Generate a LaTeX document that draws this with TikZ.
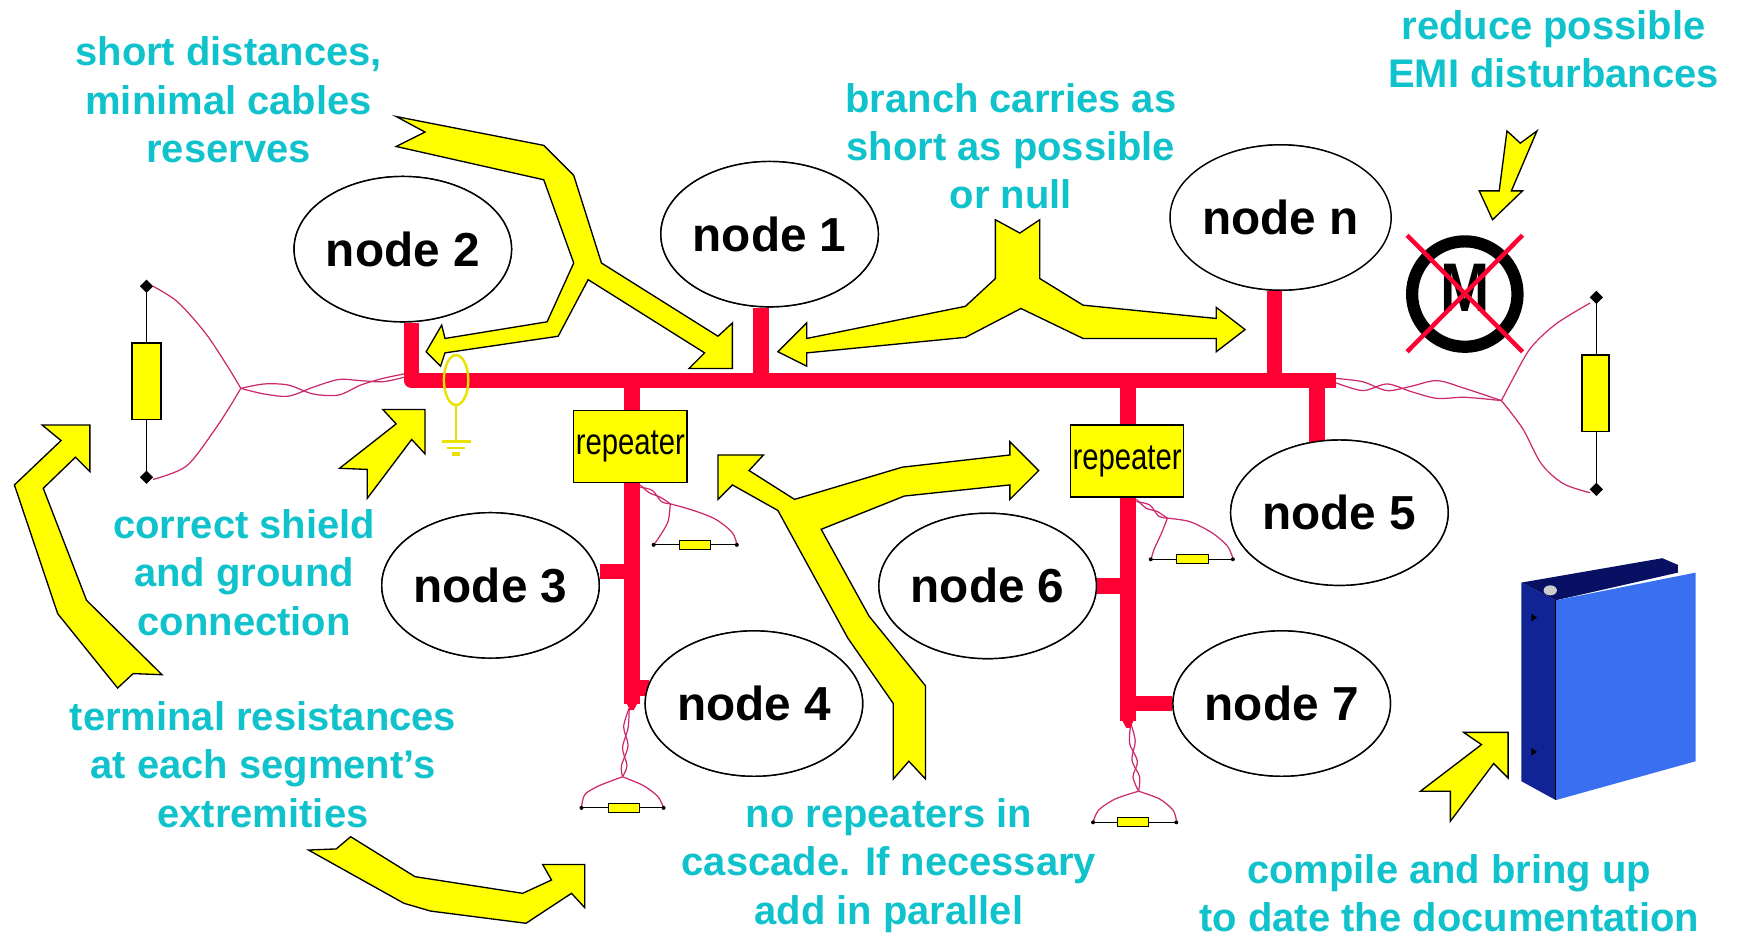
\documentclass[tikz,border=0pt]{standalone}
\usepackage{fontspec}
\setmainfont{Liberation Sans}
\usepackage{graphicx}
\usetikzlibrary{shapes.geometric}

\definecolor{notecyan}{RGB}{16,194,204}
\definecolor{busred}{RGB}{255,0,51}
\definecolor{wirepink}{RGB}{204,40,110}
\definecolor{hiyellow}{RGB}{255,255,0}
\definecolor{shieldyellow}{RGB}{232,226,0}
\definecolor{binderface}{RGB}{58,112,240}
\definecolor{binderspine}{RGB}{16,36,150}
\definecolor{bindertop}{RGB}{8,16,100}

\tikzset{
  station/.style={ellipse, draw=black, fill=white, line width=1.3, minimum width=196,
    minimum height=131, inner sep=0, font=\fontsize{43}{50}\selectfont\bfseries},
  note/.style={text=notecyan, font=\fontsize{36}{43.5}\selectfont\bfseries,
    align=center, inner sep=0, anchor=north},
  bus/.style={busred, line width=14},
  repbox/.style={draw=black, fill=hiyellow, line width=1.3, minimum width=102,
    minimum height=65, inner sep=0, font=\fontsize{33}{36}\selectfont},
  callout/.style={fill=hiyellow, draw=black, line width=1.2, line join=miter},
  twist/.style={wirepink, line width=1.1},
  resline/.style={black, line width=1.3},
  resbody/.style={draw=black, fill=hiyellow, line width=1.2},
}

\begin{document}
\begin{tikzpicture}[x=1pt, y=-1pt]
\fill[white] (0,0) rectangle (1568,847);
\useasboundingbox (0,0) rectangle (1568,847);

% ---------- stations and repeaters (placed first so they can be referenced)
\path
  (363,224.5)  node[station] (n2) {}
  (693.5,211)  node[station] (n1) {}
  (1154,196)   node[station] (nn) {}
  (1207,462)   node[station] (n5) {}
  (442,527.5)  node[station] (n3) {}
  (679.4,634)  node[station] (n4) {}
  (890,528)    node[station] (n6) {}
  (1155,634)   node[station] (n7) {};
\node[repbox] (r1) at (568,402.5) {\scalebox{0.8}[1]{repeater}};
\node[repbox] (r2) at (1015.7,415.5) {\scalebox{0.8}[1]{repeater}};

% ---------- bus coordinates
\coordinate (busW) at (371,343);
\coordinate (busE) at (1204,343);
\coordinate (t1) at (685.6,343);
\coordinate (tn) at (1148.5,343);
\coordinate (t5) at (1187,343);
\coordinate (tr1) at (569.5,343);
\coordinate (tr2) at (1016.5,343);
\coordinate (v1n3) at (569.5,515);
\coordinate (v1n4) at (569.5,620);
\coordinate (v1end) at (569.5,634);
\coordinate (v2n6) at (1016.5,528);
\coordinate (v2n7) at (1016.5,634);
\coordinate (v2end) at (1016.5,650);

% ---------- twisted pairs and terminators
% left end of the main segment
\draw[twist] plot[smooth] coordinates {(138,258) (160,272) (185,300) (205,330) (217,350)};
\draw[twist] plot[smooth] coordinates {(138,432) (168,420) (193,388) (208,365) (217,350)};
\draw[twist] plot[smooth] coordinates {(217,350) (238,346) (260,347) (282,355) (305,356) (325,347) (345,341) (364,337)};
\draw[twist] plot[smooth] coordinates {(217,350) (238,355) (260,357) (282,349) (305,342) (325,343) (345,344) (364,340)};
% right end of the main segment
\draw[twist] plot[smooth] coordinates {(1204,341) (1228,344) (1250,352) (1272,348) (1295,343) (1320,350) (1353,361)};
\draw[twist] plot[smooth] coordinates {(1204,345) (1228,352) (1250,346) (1272,353) (1295,359) (1320,358) (1353,361)};
\draw[twist] plot[smooth] coordinates {(1353,361) (1363,342) (1379,314) (1402,292) (1433,273)};
\draw[twist] plot[smooth] coordinates {(1353,361) (1372,386) (1389,418) (1409,436) (1433,444)};
% first repeater segment
\draw[twist] plot[smooth] coordinates {(577,437) (585,444) (595,448) (604,454)};
\draw[twist] plot[smooth] coordinates {(577,439) (588,442) (596,452) (604,454)};
\draw[twist] plot[smooth] coordinates {(604,454) (602,470) (594,484) (589,491)};
\draw[twist] plot[smooth] coordinates {(604,454) (625,460) (645,468) (660,480) (664,491)};
\draw[twist] plot[smooth] coordinates {(567,638) (562,655) (566,672) (560,690) (561,700)};
\draw[twist] plot[smooth] coordinates {(567,638) (566,656) (561,674) (565,690) (561,700)};
\draw[twist] plot[smooth] coordinates {(561,700) (540,708) (527,716) (524,728)};
\draw[twist] plot[smooth] coordinates {(561,700) (580,708) (593,718) (598,728)};
% second repeater segment
\draw[twist] plot[smooth] coordinates {(1024,450) (1033,458) (1043,461) (1052,467)};
\draw[twist] plot[smooth] coordinates {(1024,452) (1036,455) (1044,465) (1052,467)};
\draw[twist] plot[smooth] coordinates {(1052,467) (1046,482) (1040,495) (1037,505)};
\draw[twist] plot[smooth] coordinates {(1052,467) (1072,470) (1092,480) (1106,492) (1111,503)};
\draw[twist] plot[smooth] coordinates {(1019,652) (1023,668) (1020,685) (1027,700) (1026,713)};
\draw[twist] plot[smooth] coordinates {(1019,652) (1018,670) (1025,686) (1021,700) (1026,713)};
\draw[twist] plot[smooth] coordinates {(1026,713) (1005,720) (990,730) (985,741)};
\draw[twist] plot[smooth] coordinates {(1026,713) (1045,720) (1057,730) (1060,739)};

% big terminating resistors
\draw[resline] (132,258) -- (132,430);
\filldraw[resbody] (119,309) rectangle (145,378);
\fill (132,252) -- (138,258) -- (132,264) -- (126,258) -- cycle;
\fill (132,424) -- (138,430) -- (132,436) -- (126,430) -- cycle;
\draw[resline] (1438.5,268) -- (1438.5,441);
\filldraw[resbody] (1425.5,320) rectangle (1450,389);
\fill (1438.5,262) -- (1444.5,268) -- (1438.5,274) -- (1432.5,268) -- cycle;
\fill (1438.5,435) -- (1444.5,441) -- (1438.5,447) -- (1432.5,441) -- cycle;

% small terminating resistors
\foreach \xa/\xb/\ya/\ra/\rb in {589/664/491/612/640, 524/598/728/548/576,
                                 1037/1111/504/1060/1089, 985/1060/741/1007/1035}{
  \draw[resline, line width=1.1] (\xa,\ya) -- (\xb,\ya);
  \filldraw[resbody, line width=1] (\ra,\ya-4) rectangle (\rb,\ya+4);
  \fill (\xa,\ya) circle (1.8);
  \fill (\xb,\ya) circle (1.8);
}

% ---------- red bus and drops
\draw[bus, line join=round] (busW |- n2.south) -- (busW) -- (busE);
\draw[bus] (t1) -- (t1 |- n1.south);
\draw[bus] (tn) -- (tn |- nn.south);
\draw[bus] (t5) -- ([yshift=-3pt]t5 |- n5.north);
\draw[bus] (tr1) -- (tr1 |- r1.north);
\draw[bus] (tr2) -- (tr2 |- r2.north);
\draw[bus] (tr1 |- r1.south) -- (v1end);
\fill[busred] (562.5,630) -- (576.5,630) -- (571,640) -- (568,640) -- cycle;
\draw[bus] (v1n3) -- (v1n3 -| n3.east);
\draw[bus] (v1n4) -- ([xshift=4pt]v1n4 -| n4.west);
\draw[bus] (tr2 |- r2.south) -- (v2end);
\fill[busred] (1009.5,646) -- (1023.5,646) -- (1018,656) -- (1015,656) -- cycle;
\draw[bus] (v2n6) -- (v2n6 -| n6.east);
\draw[bus] (v2n7) -- (v2n7 -| n7.west);

% stations redrawn on top of the drops, with their labels
\path
  (363,224.5)  node[station] {node 2}
  (693.5,211)  node[station] {node 1}
  (1154,196)   node[station] {node n}
  (1207,462)   node[station] {node 5}
  (442,527.5)  node[station] {node 3}
  (679.4,634)  node[station] {node 4}
  (890,528)    node[station] {node 6}
  (1155,634)   node[station] {node 7};
\node[repbox] at (r1) {\scalebox{0.8}[1]{repeater}};
\node[repbox] at (r2) {\scalebox{0.8}[1]{repeater}};

% ---------- shield clamp and ground
\draw[shieldyellow, line width=2.2] (411,342.5) ellipse (11 and 22.5);
\draw[shieldyellow, line width=2.2] (411,365) -- (411,397);
\draw[shieldyellow, line width=2.6] (398,398) -- (424,398);
\draw[shieldyellow, line width=2.2] (403,403.5) -- (419,403.5);
\fill[shieldyellow] (407.5,407) rectangle (414.5,411);

% ---------- motor (EMI source)
\draw[black, line width=11] (1320,265) circle (47.5);
\node[font=\fontsize{62}{66}\selectfont\bfseries, inner sep=0] (motor) at (1320,259.5) {\scalebox{0.86}[1]{M}};
\draw[busred, line width=4] (1268,212) -- (1372,317);
\draw[busred, line width=4] (1372,212) -- (1268,317);

% ---------- documentation binder
\fill[binderspine] (1371,525) -- (1402,541) -- (1402,721) -- (1371,704) -- cycle;
\fill[bindertop] (1371,525) -- (1498,503) -- (1512,509) -- (1512,516) -- (1402,541) -- cycle;
\fill[binderface] (1402,541) -- (1528,516) -- (1528,686) -- (1402,721) -- cycle;
\draw[black, line width=0.8] (1402,541) -- (1402,721);
\fill[gray!40] (1397,532) ellipse (6 and 4.5);
\fill[black] (1380,553) -- (1385,556.5) -- (1380,560) -- cycle;
\fill[black] (1380,674) -- (1385,677.5) -- (1380,681) -- cycle;

% ---------- yellow callout arrows
\draw[callout] (357,105) -- (490,131) -- (517,158) -- (542,237) -- (647,303) -- (660,291)
  -- (660,332) -- (621,332) -- (635,318) -- (530,252) -- (503,303) -- (401,318) -- (397,330)
  -- (384,317) -- (398,293) -- (401,305) -- (493,290) -- (517,237) -- (490,162) -- (357,132)
  -- (383,119) -- cycle;
\draw[callout] (897,198) -- (919,210) -- (937,198) -- (937,251) -- (976,275) -- (1096,287)
  -- (1096,277) -- (1122,297) -- (1096,317) -- (1096,305) -- (976,305) -- (920,278)
  -- (870,304) -- (727,318) -- (727,330) -- (701,317) -- (727,291) -- (727,305)
  -- (870,276) -- (897,251) -- cycle;
\draw[callout] (805,702) -- (805,634) -- (764,575) -- (701,460) -- (660,437) -- (647,450)
  -- (647,410) -- (688,410) -- (675,424) -- (716,450) -- (813,421) -- (910,410) -- (910,398)
  -- (936,424) -- (910,450) -- (910,437) -- (815,447) -- (740,477) -- (783,555) -- (834,618)
  -- (834,702) -- (819,686) -- cycle;
\draw[callout] (81,383) -- (81,425) -- (68,412) -- (39,440) -- (78,541) -- (146,608)
  -- (120,607) -- (106,620) -- (52,553) -- (13,437) -- (55,397) -- (38,383) -- cycle;
\draw[callout] (316,754) -- (374,790) -- (471,805) -- (497,793) -- (489,779) -- (527,779)
  -- (527,818) -- (515,805) -- (474,832) -- (388,821) -- (364,814) -- (278,766)
  -- (303,765) -- cycle;
\draw[callout] (345,369) -- (383,369) -- (383,409) -- (371,396) -- (331,449) -- (331,423)
  -- (306,422) -- (357,382) -- cycle;
\draw[callout] (1358,118) -- (1370,129) -- (1385,118) -- (1362,172) -- (1372,172)
  -- (1345,198) -- (1333,172) -- (1351,172) -- cycle;
\draw[callout] (1319,660) -- (1359,660) -- (1359,701) -- (1346,688) -- (1307,740)
  -- (1307,713) -- (1280,713) -- (1335,671) -- cycle;

% ---------- notes
\node[note] (noteA) at (206,33)  {short distances,\\minimal cables\\reserves};
\node[note] (noteB) at (911,75)  {branch carries as\\short as possible\\or null};
\node[note] (noteC) at (1400,9)  {reduce possible\\EMI disturbances};
\node[note] (noteD) at (220,459) {correct shield\\and ground\\connection};
\node[note] (noteE) at (237,632) {terminal resistances\\at each segment’s\\extremities};
\node[note] (noteF) at (801,719.5) {no repeaters in\\cascade. If necessary\\add in parallel};
\node[note] (noteG) at (1306,770) {compile and bring up\\to date the documentation};
\end{tikzpicture}
\end{document}
